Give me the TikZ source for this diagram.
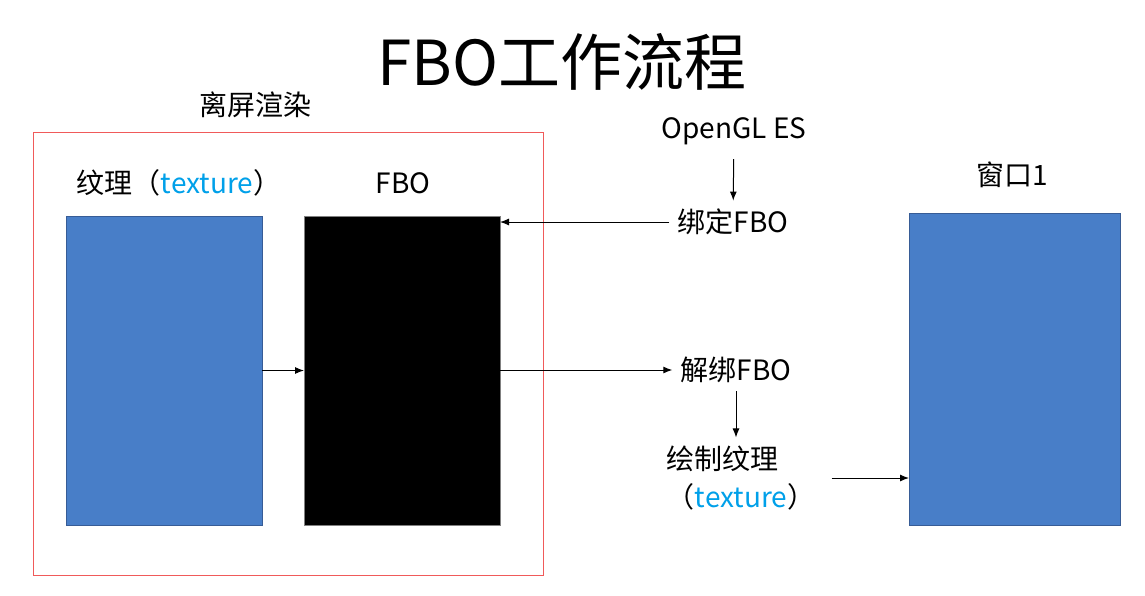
\documentclass[tikz,border=0pt]{standalone}
\usepackage{fontspec}
\setmainfont{Noto Sans CJK SC}
\usetikzlibrary{shapes, arrows, arrows.meta}
\usetikzlibrary{positioning}
\definecolor{boxblue}{RGB}{72,126,200}
\definecolor{boxedge}{RGB}{55,92,150}
\definecolor{texcyan}{RGB}{0,160,233}
\definecolor{framered}{RGB}{240,90,90}
\tikzstyle{txt} = [font=\fontsize{14}{17}\selectfont, inner sep=4pt]
\tikzstyle{panel} = [rectangle, minimum width=98pt, minimum height=154.5pt, inner sep=0pt, outer sep=0pt]
\tikzstyle{arrow} = [->,>={Latex[length=4.5pt,width=3.5pt]}, line width=0.5pt]

\begin{document}
\begin{tikzpicture}[x=0.5pt, y=-0.5pt]
    \useasboundingbox (0,0) rectangle (1145,595);

    % Nodes
    \node (title) at (562,62) [font=\fontsize{31}{36}\selectfont] {FBO工作流程};
    \node (offscreen) at (288,353.5) [rectangle, draw=framered, line width=0.45pt, minimum width=255pt, minimum height=221.5pt] {};
    \node (offlabel) at (255,105) [txt] {离屏渲染};
    \node (texlabel) at (179,183) [txt] {纹理（\textcolor{texcyan}{texture}）};
    \node (fbolabel) at (403,183) [txt] {FBO};
    \node (tex) at (164,370.5) [panel, fill=boxblue, draw=boxedge, line width=0.5pt] {};
    \node (fbo) at (402,370.5) [panel, fill=black, draw=gray, line width=0.5pt] {};
    \node (opengl) at (734,131) [txt] {OpenGL ES};
    \node (bind) at (733,222) [txt] {绑定FBO};
    \node (unbind) at (736,370) [txt] {解绑FBO};
    \node (drawtex) at (741,478) [txt, align=left] {绘制纹理\\[2pt]（\textcolor{texcyan}{texture}）};
    \node (winlabel) at (1012,175) [txt] {窗口1};
    \node (win) at (1014.5,369) [panel, minimum width=105.5pt, minimum height=156pt, fill=boxblue, draw=boxedge, line width=0.5pt] {};

    % Arrows
    \draw [arrow] (tex.east) -- (fbo.west);
    \draw [arrow, shorten <=3pt] (opengl) -- (bind);
    \draw [arrow] (bind.west) -- (bind.west -| fbo.east);
    \draw [arrow] (fbo.east |- unbind.west) -- (unbind.west);
    \draw [arrow] (unbind) -- (unbind |- drawtex.north);
    \draw [arrow, shorten <=4pt] (drawtex.east) -- (drawtex.east -| win.west);

\end{tikzpicture}
\end{document}
